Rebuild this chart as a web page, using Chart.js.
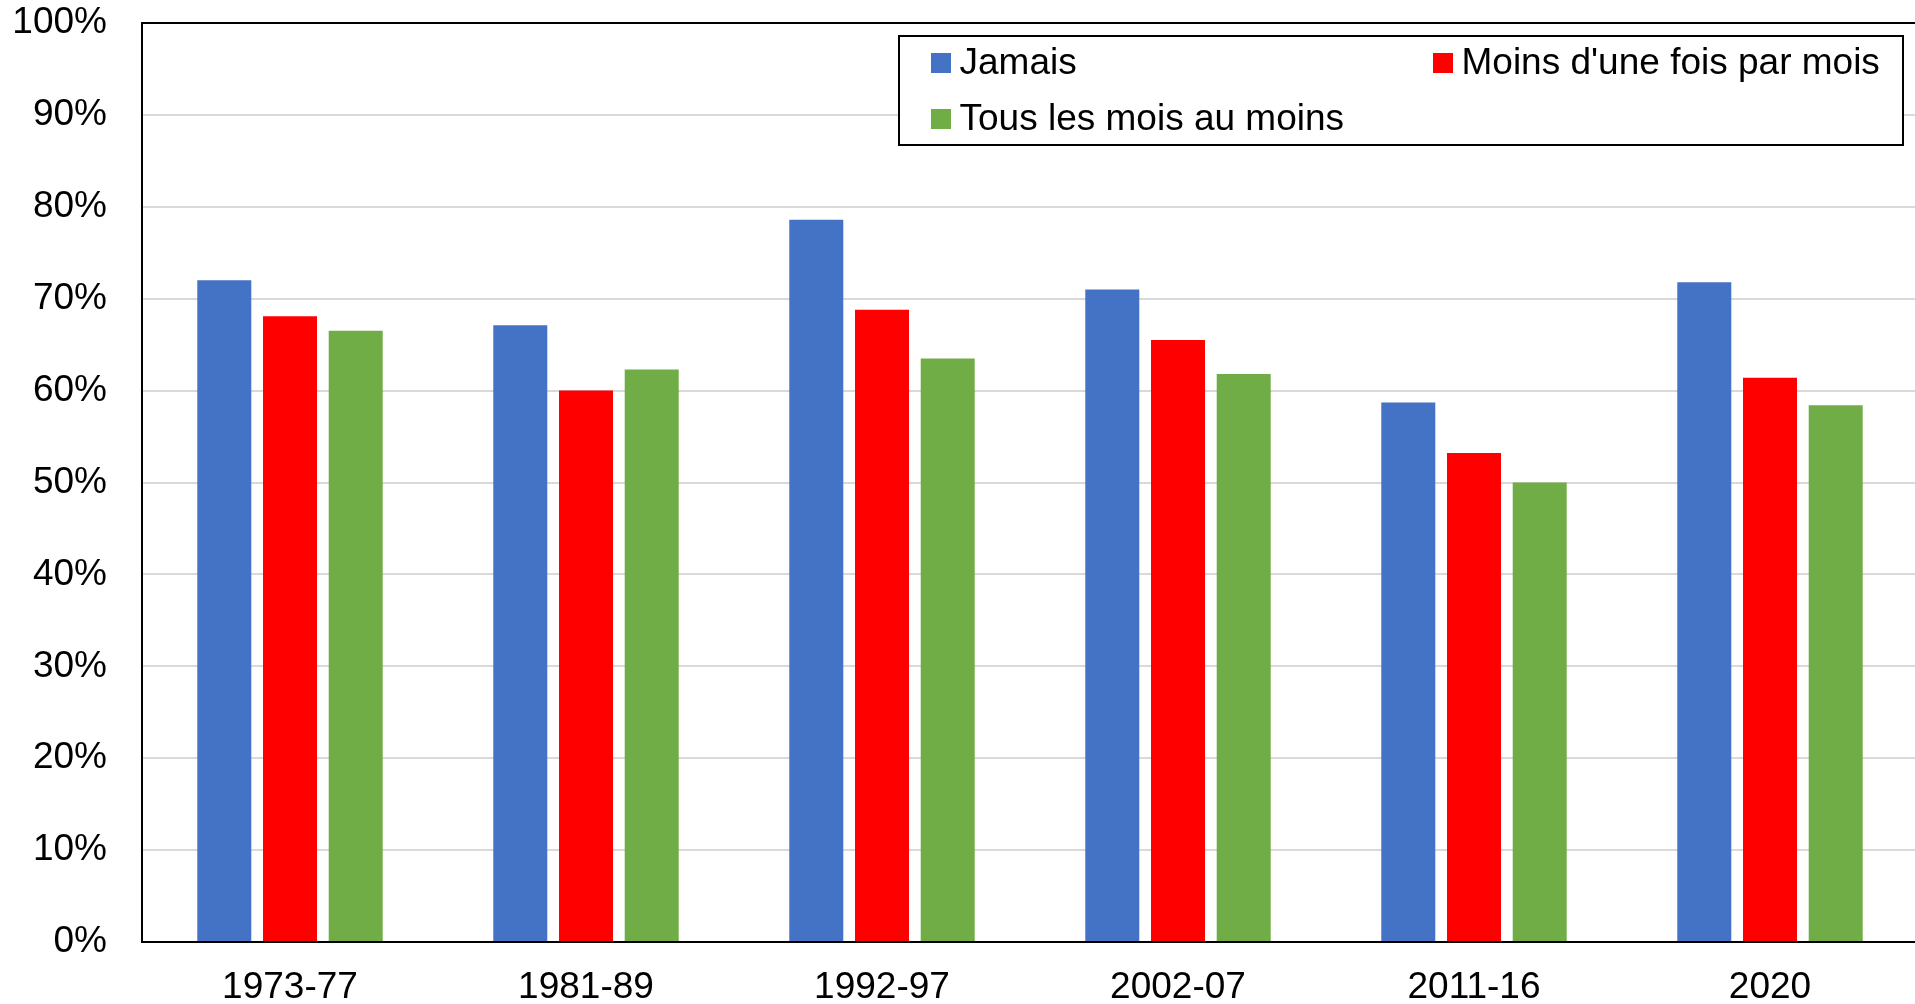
<!DOCTYPE html>
<html>
<head>
<meta charset="utf-8">
<script src="https://cdn.jsdelivr.net/npm/chart.js@4"></script>
<style>
  html, body { margin: 0; padding: 0; background: #fff; overflow: hidden; }
  #wrap { width: 1918px; height: 1004px; }
</style>
</head>
<body>
<div id="wrap"><canvas id="chart" width="1918" height="1004"></canvas></div>
<script>
const categories = ['1973-77', '1981-89', '1992-97', '2002-07', '2011-16', '2020'];
const jamais = [72.0, 67.1, 78.6, 71.0, 58.7, 71.8];
const moinsUneFois = [68.1, 60.0, 68.8, 65.5, 53.2, 61.4];
const tousLesMois = [66.5, 62.3, 63.5, 61.8, 50.0, 58.4];
const yTicks = [0, 10, 20, 30, 40, 50, 60, 70, 80, 90, 100];

const FONT = '"Liberation Sans", Arial, sans-serif';

// legend drawn in a box inside the plot, two columns like the original
const legendBox = {
  id: 'legendBox',
  afterDraw(chart) {
    const ctx = chart.ctx;
    const slots = [[931, 63], [1433, 63], [931, 119]];
    ctx.save();
    ctx.fillStyle = '#fff';
    ctx.fillRect(899, 36, 1004, 109);
    ctx.strokeStyle = '#000';
    ctx.lineWidth = 2;
    ctx.strokeRect(899, 36, 1004, 109);
    ctx.font = '37px ' + FONT;
    ctx.textBaseline = 'middle';
    chart.data.datasets.forEach((ds, i) => {
      const [x, y] = slots[i];
      ctx.fillStyle = ds.backgroundColor;
      ctx.fillRect(x, y - 10, 20, 20);
      ctx.fillStyle = '#000';
      ctx.fillText(ds.label, x + 28.5, y + 1);
    });
    ctx.restore();
  }
};

new Chart(document.getElementById('chart').getContext('2d'), {
  type: 'bar',
  data: {
    labels: categories,
    datasets: [
      { label: 'Jamais', data: jamais, backgroundColor: '#4472C4' },
      { label: "Moins d'une fois par mois", data: moinsUneFois, backgroundColor: '#FF0000' },
      { label: 'Tous les mois au moins', data: tousLesMois, backgroundColor: '#70AD47' }
    ]
  },
  options: {
    responsive: false,
    animation: false,
    barPercentage: 0.822,
    categoryPercentage: 0.666,
    layout: { padding: { top: 23, left: 0, right: 0, bottom: 0 } },
    plugins: {
      legend: { display: false },
      tooltip: { enabled: false }
    },
    scales: {
      x: {
        afterFit(scale) { scale.height = 62; },
        grid: { display: false },
        border: { display: true, color: '#000', width: 2 },
        ticks: { color: '#000', font: { family: FONT, size: 37 }, padding: 16, maxRotation: 0 }
      },
      y: {
        min: 0,
        max: 100,
        afterFit(scale) { scale.width = 142; },
        afterBuildTicks(scale) { scale.ticks = yTicks.map(v => ({ value: v })); },
        grid: {
          drawTicks: true,
          tickLength: 35,
          tickColor: 'rgba(0,0,0,0)',
          lineWidth: 2,
          color: c => (c.tick && c.tick.value === 100 ? '#000' : '#D9D9D9')
        },
        border: { display: true, color: '#000', width: 2 },
        ticks: {
          color: '#000',
          padding: 0,
          font: { family: FONT, size: 37 },
          callback: v => v + '%'
        }
      }
    }
  },
  plugins: [legendBox]
});
</script>
</body>
</html>
